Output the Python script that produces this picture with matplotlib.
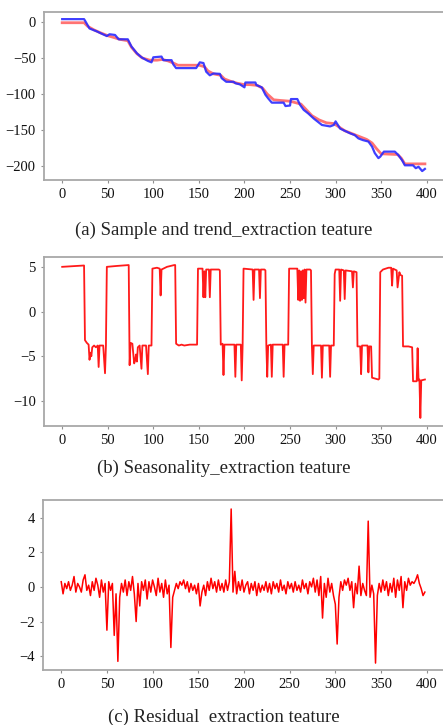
import matplotlib
matplotlib.use("Agg")
import matplotlib.pyplot as plt
import numpy as np

# ---------- data ----------
# (a) sample (blue) vertices
sample_x = [0, 24, 25, 30, 38, 43, 49, 52, 58, 62, 65, 72, 76, 82, 87, 94, 98, 100, 109, 111, 120, 122, 125,
            147, 151, 155, 158, 162, 166, 173, 175, 180, 188, 190, 195, 200, 201, 212, 213, 219, 223, 226, 230,
            243, 245, 250, 251, 258, 261, 265, 270, 276, 285, 294, 298, 300, 305, 310, 316, 321, 325, 330, 336,
            340, 343, 347, 349, 353, 365, 369, 373, 376, 385, 388, 391, 395, 398]
sample_y = [4, 4, 2, -9, -13, -16, -19.5, -17, -18, -24, -24, -24, -34, -43.5, -49, -54, -56, -49, -48, -53, -53, -59, -64,
            -64, -56, -57, -69, -74, -71.5, -72, -78, -83, -83, -85, -86.6, -90.7, -84, -84, -87.5, -90.7, -101, -106, -112,
            -112, -116.7, -116, -107, -107, -115, -122, -127, -134, -143, -145, -143, -138, -148, -151, -154.6, -157, -161.6, -164, -166,
            -173, -182, -189, -187, -180, -180, -185, -192, -199, -199, -203, -201, -207, -204]
# (a) trend (red) vertices
trend_x = [0, 24, 28, 35, 42, 50, 58, 63, 72, 76, 82, 88, 96, 104, 110, 116, 122, 127, 150, 156, 160, 166, 174, 178,
           184, 192, 200, 206, 214, 220, 225, 232, 240, 250, 256, 262, 268, 274, 282, 290, 298, 304, 310, 318, 326,
           334, 340, 345, 350, 368, 372, 376, 398]
trend_y = [-1, -1, -6, -11, -15, -19, -22, -24, -26, -35, -44, -50, -53, -53, -52, -54, -57, -60, -60, -62, -68, -72, -74, -79,
           -82, -85, -87, -87, -88, -92, -100, -108, -109, -110, -112, -114, -122, -130, -136, -140, -141, -146, -151, -155, -159,
           -163, -168, -176, -183, -184, -189, -197, -197]

# (b) seasonality vertices
season_x = [0, 23, 24, 25, 27, 29, 30, 31, 32, 33, 35, 37, 39, 40, 41, 45, 47, 48, 49, 60, 73, 74, 75, 77, 79, 80, 81, 82,
            83, 85, 87, 88, 92, 94, 95, 98, 99, 104, 107, 108, 109, 115, 123, 124, 125, 128, 131, 134, 140, 148, 149,
            154, 155, 156, 157, 158, 161, 162, 163, 172, 173, 174, 176, 177, 178, 189, 190, 191, 196, 197, 198, 199,
            209, 210, 211, 216, 217, 218, 222, 223, 224, 225, 226, 229, 230, 231, 242, 243, 244, 248, 249, 258, 259,
            260, 261, 262, 263, 264, 265, 266, 267, 268, 272, 273, 274, 275, 276, 284, 285, 286, 293, 294, 295, 298,
            299, 300, 304, 305, 306, 309, 310, 311, 318, 319, 320, 323, 324, 327, 328, 329, 335, 336, 337, 339, 340,
            347, 348, 349, 352, 358, 361, 362, 363, 367, 368, 370, 371, 373, 374, 380, 384, 385, 389, 390, 391, 392,
            393, 394, 398]
season_y = [5.0, 5.15, 5.15, -3.2, -3.5, -3.7, -5.4, -4.6, -5.0, -4.0, -3.8, -4.0, -3.8, -6.2, -3.8, -3.8, -6.9, -3.8, 5.0,
            5.1, 5.2, -6.0, -3.5, -3.6, -5.8, -5.5, -4.8, -5.6, -4.0, -3.8, -6.4, -3.8, -3.8, -7.0, -3.8, -3.8, 4.8, 4.9,
            4.8, 1.8, 4.7, 5.0, 5.2, 5.2, -3.6, -3.8, -3.7, -3.8, -3.7, -3.7, 4.8, 4.8, 1.6, 4.5, 1.6, 4.7, 4.7, 1.6,
            4.7, 4.7, 4.6, -3.7, -3.6, -7.1, -3.7, -3.7, -7.3, -3.7, -3.7, -7.7, -3.7, 4.8, 4.7, 1.3, 4.7, 4.7, 1.5, 4.7,
            4.7, 4.6, -3.7, -7.3, -3.8, -3.7, -7.3, -3.7, -3.7, -7.3, -3.7, -3.7, 4.8, 4.8, 1.3, 4.6, 1.2, 4.5, 1.3, 4.6,
            1.5, 4.7, 1.0, 4.7, 4.7, 4.6, -3.8, -7.0, -3.8, -3.8, -7.4, -3.8, -3.8, -7.3, -3.8, -3.8, 4.2, 4.7, 4.7, 1.2,
            4.7, 4.6, 1.4, 4.6, 4.5, 2.7, 4.5, 4.4, -3.9, -3.9, -7.0, -3.8, -3.8, -6.8, -3.9, -3.9, -7.4, -7.6, -7.5,
            4.4, 4.7, 4.9, 4.9, 2.9, 4.8, 4.6, 2.7, 4.4, 4.1, 4.0, -3.9, -3.9, -4.0, -7.8, -7.8, -4.1, -7.7, -7.6,
            -11.9, -7.7, -7.6]

# (c) residual, every 2 steps
resid_x = list(range(0, 400, 2))
resid_y = [0.3, -0.4, 0.2, -0.1, 0.3, -0.2, 0.1, 0.6, -0.3, 0.2, 0.0, -0.3, 0.4, 0.7, -0.2, 0.1, -0.5, 0.3, -0.2, 0.5,
           0.1, -0.6, 0.4, -0.3, 0.2, -2.5, 0.3, -0.2, 0.2, -2.8, -0.4, -4.3, -0.6, 0.2, -0.3, 0.4, -0.5, 0.3, -0.2, 0.6,
           -0.4, -2.0, 0.2, -1.1, 0.3, -0.2, 0.4, -0.7, 0.3, -0.3, 0.4, 0.0, -0.5, 0.5, -0.3, 0.2, -0.6, 0.4, -0.4, 0.1,
           -3.5, -0.6, -0.2, 0.2, -0.1, 0.3, 0.1, 0.4, -0.1, 0.3, -0.3, 0.2, -0.2, 0.1, -0.4, 0.2, -1.1, -0.3, 0.1, -0.5,
           0.3, -0.2, 0.5, -0.1, 0.3, -0.3, 0.4, -0.2, 0.2, -0.3, 0.4, -0.2, 0.3, 4.5, -0.3, 0.9, -0.4, 0.3, -0.2, 0.4,
           -0.3, 0.1, 0.3, -0.4, 0.2, -0.2, 0.3, -0.5, 0.2, -0.3, 0.1, -0.2, 0.3, -0.3, 0.2, -0.4, 0.3, -0.1, 0.2, -0.3,
           0.4, -0.2, 0.1, -0.4, 0.3, -0.1, 0.2, -0.3, 0.3, -0.2, 0.1, -0.3, 0.4, -0.1, 0.2, -0.4, 0.3, 0.0, 0.5, -0.3,
           0.4, -0.5, 0.6, -1.8, 0.2, -0.6, 0.5, -0.3, 0.2, -0.5, -1.0, -3.3, -0.6, 0.3, -0.2, 0.4, 0.1, 0.5, -0.2, 0.3,
           -1.2, 0.2, -0.4, 1.2, -0.5, 0.2, -0.2, -0.5, 3.8, -0.6, 0.1, -0.4, -4.4, -0.5, 0.2, -0.3, 0.4, -0.2, 0.3, -0.5,
           0.2, -0.3, 0.5, -0.6, 0.4, -0.2, 0.6, -1.2, 0.3, -0.2, 0.5, 0.1, 0.3, 0.2, 0.4, 0.7, 0.2, -0.1, -0.5, -0.3]

xticks = [0, 50, 100, 150, 200, 250, 300, 350, 400]
yticks_a = [0, -50, -100, -150, -200]
yticks_b = [5, 0, -5, -10]
yticks_c = [4, 2, 0, -2, -4]
captions = ["(a) Sample and trend_extraction teature",
            "(b) Seasonality_extraction teature",
            "(c) Residual  extraction teature"]

# ---------- figure ----------
W, H = 443, 725
fig = plt.figure(figsize=(W / 100, H / 100), dpi=100)
serif = ["Liberation Serif", "DejaVu Serif"]

def make_ax(left_px, top_px, bottom_px, ylim, yticks):
    ax = fig.add_axes([left_px / W, 1 - bottom_px / H, (W + 1 - left_px) / W, (bottom_px - top_px) / H])
    ax.set_xlim(-19.95, 418.95)
    ax.set_ylim(*ylim)
    ax.set_xticks(xticks)
    ax.set_yticks(yticks)
    for s in ax.spines.values():
        s.set_color("#a8a8a8")
        s.set_linewidth(1.3)
    ax.tick_params(length=2, width=0.8, color="#909090", labelsize=10.5, labelcolor="#111111", pad=4)
    for lab in ax.get_xticklabels() + ax.get_yticklabels():
        lab.set_family(serif)
    return ax

ax1 = make_ax(44, 12, 180, (-219.4, 13.9), yticks_a)
ax1.plot(trend_x, trend_y, color="#ff5a5a", lw=2.0, alpha=0.85)
ax1.plot(sample_x, sample_y, color="#2a2aff", lw=1.6, alpha=0.9)

ax2 = make_ax(44, 257, 426, (-12.8, 6.1), yticks_b)
ax2.plot(season_x, season_y, color="#ff1a1a", lw=1.3)

ax3 = make_ax(43, 500, 670, (-4.8, 5.02), yticks_c)
ax3.plot(resid_x, resid_y, color="#ff0000", lw=1.1)

for txt, ypx in zip(captions, [230, 468, 717]):
    fig.text(224 / W, 1 - ypx / H, txt, ha="center", va="center", fontsize=13.5,
             family=serif, color="#222222")

fig.savefig("out.png", dpi=100)
